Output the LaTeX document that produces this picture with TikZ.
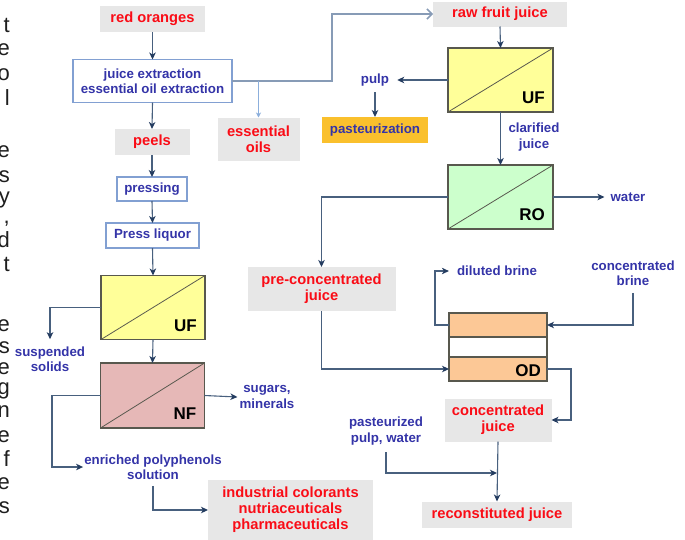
\documentclass[tikz,border=0pt]{standalone}
\usepackage{fontspec}
\setmainfont{Liberation Sans}
\usetikzlibrary{arrows.meta}
\definecolor{boxgray}{RGB}{231,231,231}
\definecolor{txtred}{RGB}{250,12,22}
\definecolor{txtblue}{RGB}{52,52,168}
\definecolor{boxblue}{RGB}{130,160,210}
\definecolor{linecol}{RGB}{72,96,126}
\definecolor{tipcol}{RGB}{36,60,96}
\definecolor{lightline}{RGB}{135,155,182}
\definecolor{branchcol}{RGB}{140,175,220}
\definecolor{unitline}{RGB}{88,88,78}
\definecolor{ufyellow}{RGB}{255,255,153}
\definecolor{rogreen}{RGB}{204,255,204}
\definecolor{nfpink}{RGB}{230,184,183}
\definecolor{odpeach}{RGB}{252,200,150}
\definecolor{pastorange}{RGB}{250,192,45}
\definecolor{fragcol}{RGB}{30,30,30}
\begin{document}
\begin{tikzpicture}[x=1pt,y=-1pt,
  bfont/.style={font=\fontsize{13.3}{15.5}\selectfont\bfseries},
  rfont/.style={font=\fontsize{14.7}{16}\selectfont\bfseries},
  graybox/.style={rfont, fill=boxgray, text=txtred, align=center, inner sep=0pt, outer sep=0pt},
  whitebox/.style={bfont, draw=boxblue, line width=1.2pt, fill=white, text=txtblue, align=center, inner sep=0pt, outer sep=0pt},
  unitbox/.style={draw=unitline, line width=1.2pt, inner sep=0pt, outer sep=0pt, minimum width=104, minimum height=64},
  unitlbl/.style={font=\fontsize{17}{19}\selectfont\bfseries, text=black, inner sep=0pt},
  diag/.style={draw=unitline, line width=0.8pt},
  lbl/.style={bfont, text=txtblue, align=center, inner sep=4pt},
  frag/.style={font=\fontsize{22}{24}\selectfont, text=fragcol, inner sep=0pt, anchor=base east},
  conn/.style={draw=linecol, line width=1.1pt, -{Stealth[length=7pt,width=6.5pt,inset=2pt,color=tipcol]}},
  openconn/.style={draw=lightline, line width=1.5pt, -{Straight Barb[length=5pt,width=10pt]}},
  branchconn/.style={draw=branchcol, line width=1.1pt, -{Stealth[length=5pt,width=5pt,inset=1.5pt]}}
]
\useasboundingbox (0,0) rectangle (685,539);

% clipped paragraph letters at the left margin
\foreach \ch/\yy [count=\i] in {t/32,e/55,o/80,l/105,e/157,s/182,y/203,{,}/223,d/247,t/271,e/331,s/353,e/374,g/394,n/417,e/442,f/466,e/489,s/513}
  \node[frag] (frag\i) at (10,\yy) {\ch};

% left column
\node[graybox, minimum width=105, minimum height=26] (redor) at (152.5,19) {red oranges};
\node[whitebox, minimum width=159, minimum height=43] (juice) at (152.5,81) {juice extraction\\essential oil extraction};
\node[graybox, minimum width=75, minimum height=26] (peels) at (152,142) {peels};
\node[graybox, minimum width=82, minimum height=43] (essoils) at (258.5,139) {essential\\oils};
\node[whitebox, minimum width=70, minimum height=24] (pressing) at (152,189) {pressing};
\node[whitebox, minimum width=93, minimum height=25] (pressliq) at (152.5,235.5) {Press liquor};
\node[unitbox, fill=ufyellow] (uf2) at (153,307.5) {};
\node[unitbox, fill=nfpink, minimum height=65] (nf) at (152.5,395.5) {};
\node[lbl] (susp) at (50,359) {suspended\\solids};
\node[lbl] (sugars) at (267,397) {sugars,\\minerals};
\node[lbl] (enriched) at (153,467) {enriched polyphenols\\solution};
\node[graybox, minimum width=165, minimum height=60] (indus) at (290.5,510) {industrial colorants\\nutriaceuticals\\pharmaceuticals};

% right column
\node[graybox, minimum width=134, minimum height=25] (rawjuice) at (500,14) {raw fruit juice};
\node[unitbox, fill=ufyellow, minimum width=105] (uf1) at (500.5,80) {};
\node[lbl] (pulp) at (375,80) {pulp};
\node[whitebox, draw=none, line width=0pt, fill=pastorange, minimum width=106, minimum height=26] (past) at (375,130) {pasteurization};
\node[lbl] (clar) at (534,137) {clarified\\juice};
\node[unitbox, fill=rogreen, minimum width=105] (ro) at (500.5,197) {};
\node[lbl] (water) at (628,197) {water};
\node[graybox, minimum width=148, minimum height=44] (precon) at (321.5,289) {pre-concentrated\\juice};
\node[unitbox, fill=odpeach, minimum width=98, minimum height=24] (odtop) at (498,325) {};
\node[unitbox, fill=white, minimum width=98, minimum height=20] (odmid) at (498,347) {};
\node[unitbox, fill=odpeach, minimum width=98, minimum height=24] (odbot) at (498,369) {};
\node[lbl] (dilbr) at (497,271) {diluted brine};
\node[lbl] (conbr) at (633,273) {concentrated\\brine};
\node[graybox, minimum width=107, minimum height=43] (conjuice) at (498,420) {concentrated\\juice};
\node[lbl] (pastpw) at (386,431) {pasteurized\\pulp, water};
\node[graybox, minimum width=150, minimum height=26] (recon) at (497,514.5) {reconstituted juice};

% membrane diagonals and unit labels
\foreach \u/\t in {uf1/UF,ro/RO,uf2/UF,nf/NF}{
  \draw[diag] (\u.south west) -- (\u.north east);
  \node[unitlbl, anchor=south east] (\u lab) at ([xshift=-8pt,yshift=8pt]\u.south east) {\t};
}
\node[unitlbl, anchor=south east] (odlab) at ([xshift=-6pt,yshift=4pt]odbot.south east) {OD};

% connectors, left column
\draw[conn] (redor.south) -- (juice.north);
\draw[conn] (juice.south) -- (peels.north);
\coordinate (bendA) at (332,81);
\draw[openconn] (juice.east) -- (bendA) |- (rawjuice.west);
\draw[branchconn] (juice.east -| essoils.north) -- (essoils.north);
\draw[conn] (peels.south) -- (pressing.north);
\draw[conn] (pressing.south) -- (pressliq.north);
\draw[conn] (pressliq.south) -- (uf2.north);
\draw[conn] (uf2.west) -| ([yshift=3pt]susp.north);
\draw[conn] (uf2.south) -- (nf.north);
\draw[conn] (nf.east) -- ([xshift=2pt]sugars.west);
\coordinate (bendB) at (52,395.5);
\draw[conn] (nf.west) -- (bendB) |- ([xshift=3pt]enriched.west);
\draw[conn] ([yshift=-2pt]enriched.south) |- (indus.west);

% connectors, right column
\draw[conn] (rawjuice.south) -- (uf1.north);
\draw[conn] (uf1.west) -- ([xshift=4pt]pulp.east);
\draw[conn] ([yshift=-2pt]pulp.south) -- (past.north);
\draw[conn] (uf1.south) -- (ro.north);
\draw[conn] (ro.east) -- ([xshift=-2pt]water.west);
\draw[conn] (ro.west) -| (precon.north);
\draw[conn] (precon.south) |- (odbot.west);
\coordinate (bendC) at (435,325);
\draw[conn] (odtop.west) -- (bendC) |- ([xshift=-4pt]dilbr.west);
\draw[conn] ([yshift=-3pt]conbr.south) |- (odtop.east);
\coordinate (bendD) at (571,369);
\draw[conn] (odbot.east) -- (bendD) |- (conjuice.east);
\draw[conn] (conjuice.south) -- (recon.north);
\coordinate (merge) at (497,473);
\draw[conn] ([yshift=-3pt]pastpw.south) |- (merge);
\end{tikzpicture}
\end{document}
